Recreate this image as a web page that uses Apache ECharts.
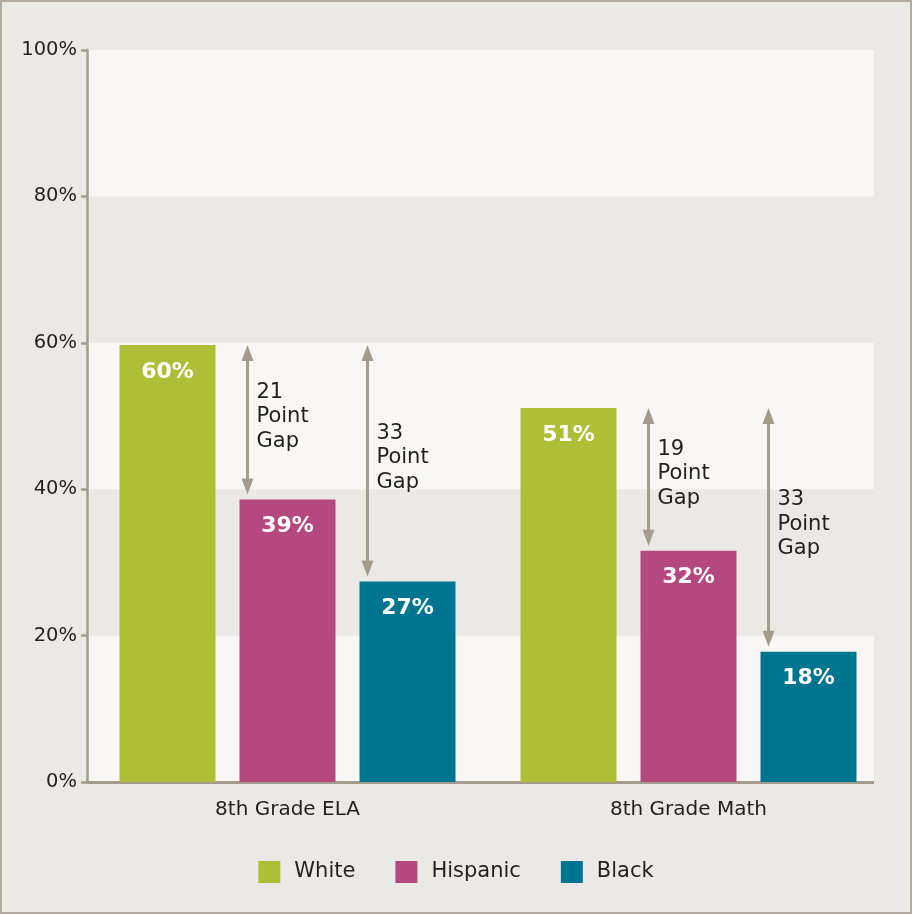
<!DOCTYPE html>
<html><head><meta charset="utf-8">
<script src="https://cdn.jsdelivr.net/npm/echarts@6/dist/echarts.min.js"></script>
<style>
html,body{margin:0;padding:0;background:#ebe9e6;}
#c{width:912px;height:914px;box-sizing:border-box;border:2px solid #b3ab9d;}
</style></head>
<body><div id="c"></div>
<script>
const categories = ['8th Grade ELA', '8th Grade Math'];
const seriesNames = ['White', 'Hispanic', 'Black'];
const whiteVals = [59.7, 51.1];
const hispanicVals = [38.6, 31.6];
const blackVals = [27.4, 17.8];
const yTicks = [0, 20, 40, 60, 80, 100];
// gap annotations: category index, comparison series index (1=Hispanic, 2=Black)
const gapCats = [0, 0, 1, 1];
const gapSeries = [1, 2, 1, 2];

const colors = ['#afbe37', '#b5487e', '#007591'];
const allVals = [whiteVals, hispanicVals, blackVals];
const FONT = '"DejaVu Sans", "Noto Sans", sans-serif';
const BAR_W = 96, BAR_GAP = 24;

const gapData = gapCats.map((c, i) => {
  const s = gapSeries[i];
  const hi = whiteVals[c], lo = allVals[s][c];
  return [c, hi, lo, s, Math.round(hi) - Math.round(lo)];
});

const chart = echarts.init(document.getElementById('c'), null, {renderer: 'canvas'});

function renderGap(params, api) {
  const c = api.value(0), hi = api.value(1), lo = api.value(2), s = api.value(3), g = api.value(4);
  const center = api.coord([c, 0])[0];
  const groupW = 3 * BAR_W + 2 * BAR_GAP;
  const barLeft = center - groupW / 2 + s * (BAR_W + BAR_GAP);
  const x = barLeft + 8;
  const yTop = api.coord([c, hi])[1];
  const yBot = api.coord([c, lo])[1] - 5;
  const col = '#a39c8d';
  const headH = 16, headW = 6;
  return {
    type: 'group',
    children: [
      {type: 'line', shape: {x1: x, y1: yTop + headH - 2, x2: x, y2: yBot - headH + 2},
       style: {stroke: col, lineWidth: 3}},
      {type: 'polygon', shape: {points: [[x, yTop], [x - headW, yTop + headH], [x + headW, yTop + headH]]},
       style: {fill: col}},
      {type: 'polygon', shape: {points: [[x, yBot], [x - headW, yBot - headH], [x + headW, yBot - headH]]},
       style: {fill: col}},
      {type: 'text', x: x + 9, y: (yTop + yBot) / 2 - 3,
       style: {text: g + '\nPoint\nGap', fill: '#231f20', font: '21px ' + FONT,
               lineHeight: 24.5, verticalAlign: 'middle', align: 'left'}}
    ]
  };
}

const barSeries = seriesNames.map((n, i) => ({
  name: n, type: 'bar', data: allVals[i], barWidth: BAR_W, barGap: (BAR_GAP / BAR_W * 100) + '%',
  itemStyle: {color: colors[i]},
  label: {show: true, position: 'insideTop', distance: 16, color: '#fff',
          fontFamily: FONT, fontWeight: 'bold', fontSize: 22,
          formatter: p => Math.round(p.value) + '%'}
}));

chart.setOption({
  animation: false,
  backgroundColor: '#ebe9e6',
  color: colors,
  grid: {left: 85, right: 21, top: 48, bottom: 130},
  legend: {
    data: seriesNames, bottom: 24, left: 'center', icon: 'rect', itemWidth: 22, itemHeight: 22,
    itemGap: 40, textStyle: {fontFamily: FONT, fontSize: 21, color: '#231f20', padding: [0, 0, 0, 9]}
  },
  xAxis: {
    type: 'category', data: categories,
    axisLine: {lineStyle: {color: '#a39c8d', width: 3}},
    axisTick: {show: false},
    axisLabel: {fontFamily: FONT, fontSize: 20, color: '#231f20', margin: 18}
  },
  yAxis: {
    type: 'value', min: 0, max: 100, interval: 20,
    axisLine: {show: true, lineStyle: {color: '#a39c8d', width: 2.5}},
    axisTick: {show: true, length: 6, lineStyle: {color: '#a39c8d', width: 2.5}},
    axisLabel: {fontFamily: FONT, fontSize: 19.5, color: '#231f20', margin: 10,
                formatter: v => yTicks.includes(v) ? v + '%' : ''},
    splitLine: {show: false},
    splitArea: {show: true, areaStyle: {color: ['#f8f7f5', '#ebe9e6']}}
  },
  series: [...barSeries, {
    type: 'custom', data: gapData, renderItem: renderGap, z: 5, silent: true,
    encode: {x: 0, y: [1, 2]}
  }],
  graphic: [{
    type: 'rect', right: 0, top: 40, z: 100,
    shape: {width: 36, height: 760},
    style: {fill: '#ebe9e6'}
  }]
});
</script>
</body></html>
